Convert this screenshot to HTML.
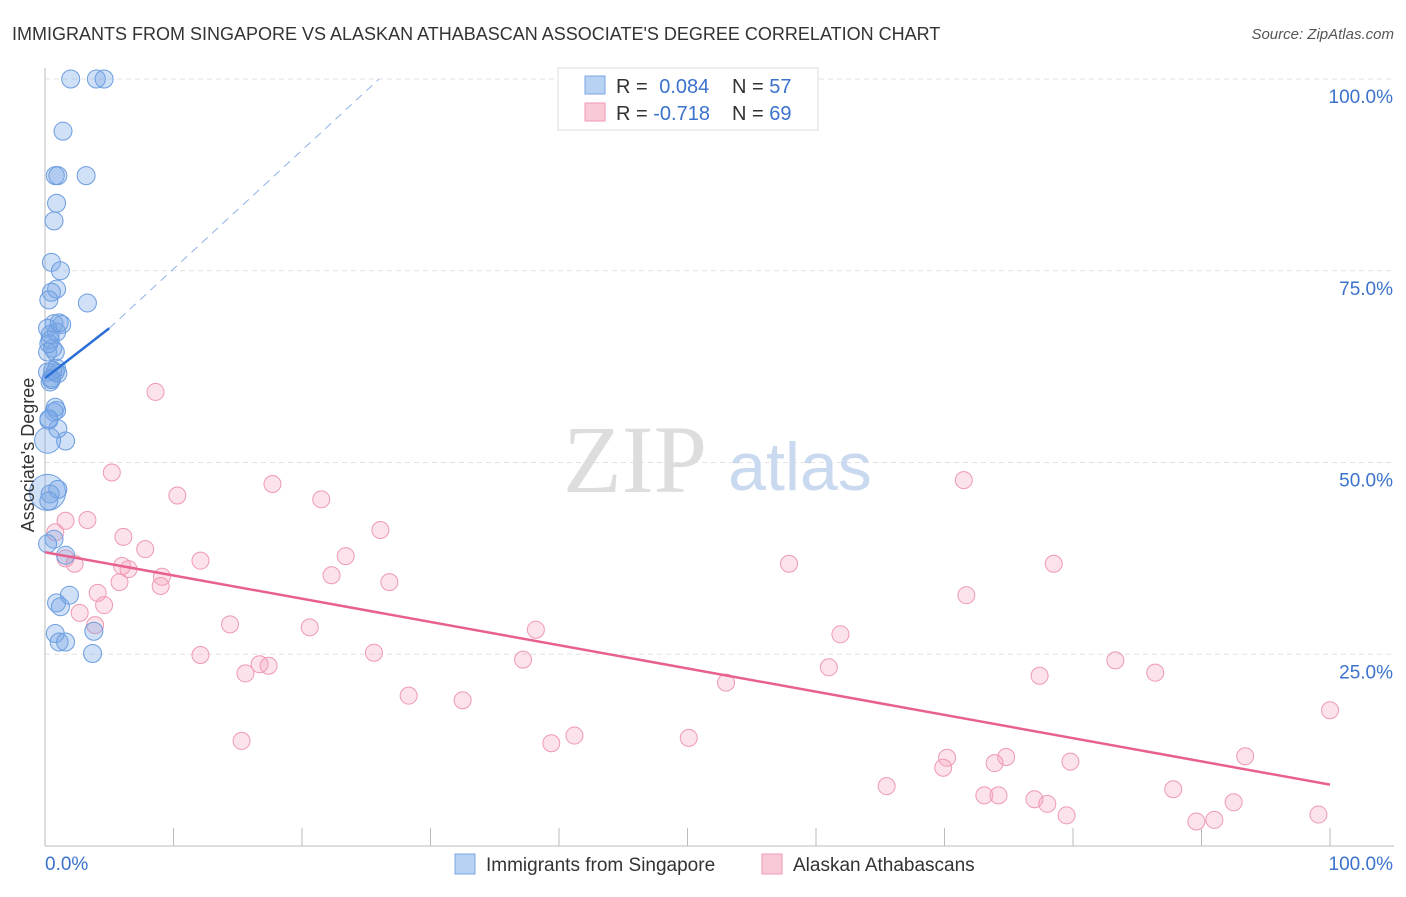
<!DOCTYPE html>
<html><head><meta charset="utf-8">
<style>
body{margin:0;background:#fff;font-family:"Liberation Sans",sans-serif;}
svg text{font-family:"Liberation Sans",sans-serif;}
</style></head>
<body>
<svg id="chart" width="1406" height="892" xmlns="http://www.w3.org/2000/svg">
<text x="12" y="40" font-size="18" fill="#333">IMMIGRANTS FROM SINGAPORE VS ALASKAN ATHABASCAN ASSOCIATE'S DEGREE CORRELATION CHART</text>
<text x="1394" y="39" font-size="15" fill="#555" font-style="italic" text-anchor="end">Source: ZipAtlas.com</text>
<g id="grid"></g>
<text x="635" y="492" font-size="96" fill="#ddd" font-family="Liberation Serif" text-anchor="middle" style="font-family:'Liberation Serif',serif">ZIP</text>
<text x="800" y="490" font-size="68" fill="#c9d9ef" text-anchor="middle">atlas</text>
<g id="axes"></g>
<g id="pts"></g>
<g id="trends"></g>
<text transform="translate(34,455) rotate(-90)" font-size="18" fill="#333" text-anchor="middle">Associate's Degree</text>
<g>
<rect x="558" y="68" width="260" height="62" fill="#fff" stroke="#ddd"/>
<rect x="585" y="76" width="20" height="18" fill="#b8d2f3" stroke="#7aa6e0"/>
<rect x="585" y="103" width="20" height="18" fill="#f9c9d6" stroke="#ee9ab3"/>
<text x="616" y="93" font-size="20" fill="#333">R = <tspan fill="#3a72cc" dx="6">0.084</tspan></text>
<text x="732" y="93" font-size="20" fill="#333">N = <tspan fill="#3a72cc">57</tspan></text>
<text x="616" y="120" font-size="20" fill="#333">R = <tspan fill="#3a72cc">-0.718</tspan></text>
<text x="732" y="120" font-size="20" fill="#333">N = <tspan fill="#3a72cc">69</tspan></text>
</g>
<g>
<rect x="455" y="854" width="20" height="20" fill="#b8d2f3" stroke="#7aa6e0"/>
<text x="486" y="871" font-size="19" fill="#333">Immigrants from Singapore</text>
<rect x="762" y="854" width="20" height="20" fill="#f9c9d6" stroke="#ee9ab3"/>
<text x="793" y="871" font-size="19" fill="#333">Alaskan Athabascans</text>
</g>
</svg>
<script>
const blueX=[2.0,4.0,4.6,1.4,0.8,1.0,3.2,0.9,0.7,0.5,1.2,0.9,0.5,0.3,3.3,0.7,1.3,0.2,0.9,0.4,0.8,0.2,0.9,0.2,0.5,0.4,0.8,0.9,0.7,0.3,1.0,1.6,0.2,0.2,1.0,0.7,1.6,0.9,1.2,1.9,3.8,0.8,1.1,1.6,3.7,0.4,0.2,0.6,0.3,1.0,0.5,0.4,0.8,0.3,0.6,1.1,0.3];
const blueY=[100,100,100,93.2,87.4,87.4,87.4,83.8,81.5,76.1,75.0,72.6,72.2,71.2,70.8,68.1,68.0,67.5,67.0,66.0,64.4,64.4,62.3,61.8,61.0,60.5,61.8,56.8,56.6,55.5,54.4,52.8,52.9,46.1,46.5,40.0,37.9,31.7,31.2,32.7,28.0,27.7,26.6,26.6,25.1,45.9,39.4,64.9,65.5,61.6,60.8,66.7,57.2,55.7,62.0,68.2,45.0];
const blueR=[9,9,9,9,9,9,9,9,9,9,9,9,9,9,9,9,9,9,9,9,9,9,9,9,9,9,9,9,9,9,9,9,13,18,9,9,9,9,9,9,9,9,9,9,9,9,9,9,9,9,9,9,9,9,9,9,9];
const pinkX=[8.6,5.2,10.3,17.7,21.5,71.5,1.6,3.3,0.8,6.1,26.1,7.8,12.1,23.4,57.9,78.5,1.6,2.3,6.5,9.1,5.8,9.0,22.3,26.8,4.1,71.7,4.6,2.7,3.9,14.4,20.6,38.2,61.9,12.1,25.6,37.2,16.7,17.4,15.6,61.0,83.3,77.4,86.4,53.0,28.3,32.5,100,41.2,50.1,39.4,15.3,93.4,70.2,74.8,69.9,73.9,79.8,65.5,87.8,73.1,74.2,77.0,78.0,79.5,92.5,89.6,91.0,99.1,6.0];
const pinkY=[59.2,48.7,45.7,47.2,45.2,47.7,42.4,42.5,40.9,40.3,41.2,38.7,37.2,37.8,36.8,36.8,37.5,36.8,36.1,35.1,34.4,33.9,35.3,34.4,33.0,32.7,31.4,30.4,28.8,28.9,28.5,28.2,27.6,24.9,25.2,24.3,23.7,23.5,22.5,23.3,24.2,22.2,22.6,21.3,19.6,19.0,17.7,14.4,14.1,13.4,13.7,11.7,11.5,11.6,10.2,10.8,11.0,7.8,7.4,6.6,6.6,6.1,5.5,4.0,5.7,3.2,3.4,4.1,36.5];
const yTicks=[0,25,50,75,100];
const xTickLabels=["0.0%","100.0%"];
const yTickLabels=["","25.0%","50.0%","75.0%","100.0%"];
const pinkTrend=[[0,38.3],[100,8.0]];
const blueTrend=[[0,61.0],[5,67.5]];
const blueDash=[[5,67.5],[26,100]];

const X0=45,X1=1330,Y0=846,Y1=79;
const sx=v=>X0+(X1-X0)*v/100, sy=v=>Y0-(Y0-Y1)*v/100;
const NS="http://www.w3.org/2000/svg";
function mk(tag,attrs,parent){const e=document.createElementNS(NS,tag);for(const k in attrs)e.setAttribute(k,attrs[k]);parent.appendChild(e);return e;}
const grid=document.getElementById('grid'),axes=document.getElementById('axes'),pts=document.getElementById('pts'),tr=document.getElementById('trends');
yTicks.forEach((t,i)=>{
 if(t>0){const l=mk('line',{x1:X0,x2:1394,y1:sy(t),y2:sy(t),stroke:'#e2e2e2','stroke-dasharray':'5,4'},grid);
 
 
 const tx=mk('text',{x:1393,y:sy(t)+24,'font-size':19,fill:'#3a72cc','text-anchor':'end'},axes);tx.textContent=yTickLabels[i];
 
 }
});
const ax=mk('line',{x1:X0,x2:X0,y1:68,y2:Y0,stroke:'#bbb'},axes);


const bx=mk('line',{x1:X0,x2:1394,y1:Y0,y2:Y0,stroke:'#bbb'},axes);


for(let i=1;i<=10;i++){const t=mk('line',{x1:sx(i*10),x2:sx(i*10),y1:Y0,y2:Y0-18,stroke:'#bbb'},axes);
 
 }
[[X0,xTickLabels[0],'start'],[1393,xTickLabels[1],'end']].forEach(([x,s,a])=>{const t=mk('text',{x:x,y:870,'font-size':19,fill:'#3a72cc','text-anchor':a},axes);t.textContent=s;
 
 });
pinkX.forEach((x,i)=>{const c=mk('circle',{cx:sx(x),cy:sy(pinkY[i]),r:8.5,fill:'rgba(244,160,186,0.3)',stroke:'#ee9ab3','stroke-width':1},pts);
 
 });
blueX.forEach((x,i)=>{const c=mk('circle',{cx:sx(x),cy:sy(blueY[i]),r:blueR[i],fill:'rgba(120,166,228,0.35)',stroke:'#6b9de0','stroke-width':1},pts);
 
 });
const pl=mk('line',{x1:sx(pinkTrend[0][0]),y1:sy(pinkTrend[0][1]),x2:sx(pinkTrend[1][0]),y2:sy(pinkTrend[1][1]),stroke:'#e8608f','stroke-width':2.5},tr);


const bl=mk('line',{x1:sx(blueTrend[0][0]),y1:sy(blueTrend[0][1]),x2:sx(blueTrend[1][0]),y2:sy(blueTrend[1][1]),stroke:'#2a6fd6','stroke-width':2.5},tr);


const bd=mk('line',{x1:sx(blueDash[0][0]),y1:sy(blueDash[0][1]),x2:sx(blueDash[1][0]),y2:sy(blueDash[1][1]),stroke:'#8fb3e6','stroke-width':1,'stroke-dasharray':'8,6'},tr);


</script>
</body></html>
